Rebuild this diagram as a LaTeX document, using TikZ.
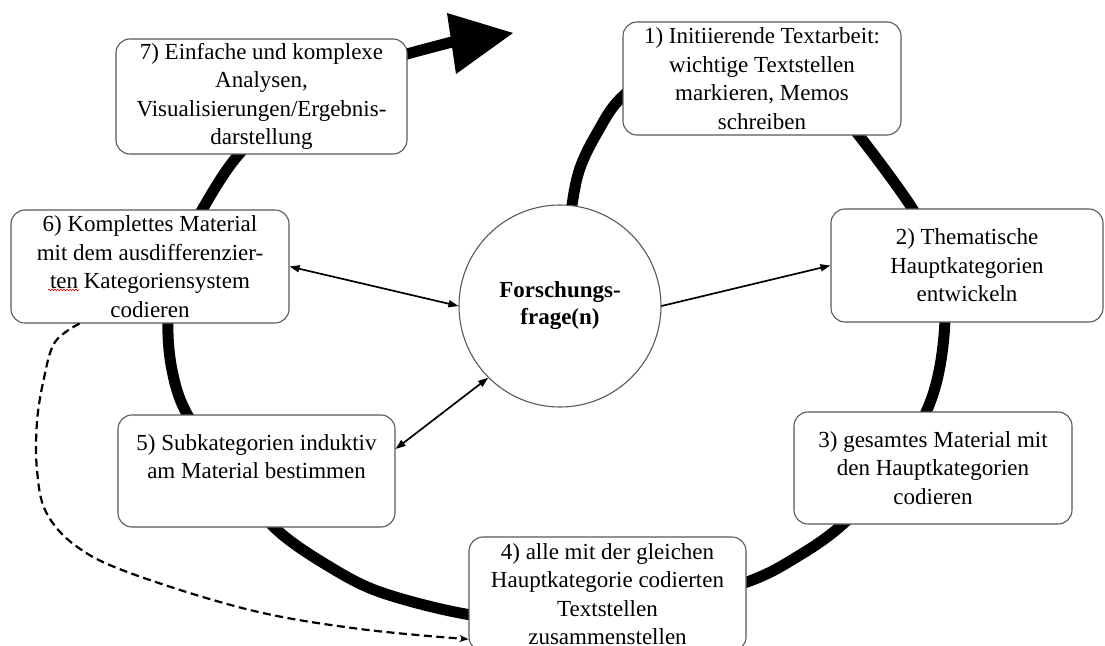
\documentclass[tikz,border=0pt]{standalone}
\usepackage{fontspec}
\setmainfont{Liberation Serif}
\usetikzlibrary{arrows.meta, decorations.pathmorphing}

\begin{document}
\begin{tikzpicture}[x=1pt, y=-1pt,
  stepbox/.style={draw=black!65, line width=1.1pt, fill=white,
    rounded corners=14pt, align=center, inner sep=0pt,
    font=\fontsize{23}{28.5}\selectfont},
  hub/.style={circle, draw=black!65, line width=1.1pt, fill=white,
    minimum size=202pt, inner sep=0pt, align=center,
    font=\fontsize{23}{27}\selectfont\bfseries},
  cycle line/.style={line width=11pt, line join=round},
  link/.style={line width=1.7pt},
  tip/.tip={Triangle[length=10pt, width=7pt]},
  back link/.style={line width=2.2pt, dash pattern=on 8pt off 4.5pt},
]
\useasboundingbox (0,0) rectangle (1105,645);
\clip (0,0) rectangle (1105,645);
\fill[white] (0,0) rectangle (1105,645);

% the research cycle, running clockwise from the central question
\draw[cycle line] plot[smooth, tension=0.55] coordinates {
  (566,260) (572,205) (580,168) (597,133) (622,97) (680,55) (760,58)
  (822,95) (857,133) (912,208) (938,260) (945,312) (940,366) (927,410)
  (895,470) (843,524) (800,555) (747,582) (640,612) (540,622) (460,613)
  (380,592) (330,567) (277,530) (230,475) (187,414) (172,370) (168,320)
  (176,262) (202,210) (240,153) (300,100) (360,68) (407,54) (452,42)};
\fill (447,13) -- (513,33) -- (456,74) -- cycle;

% central question
\node[hub] (fq) at (560,306) {Forschungs-\\frage(n)};

% phases
\node[stepbox, minimum width=278pt, minimum height=113pt] (b1) at (762,78.5)
  {1) Initiierende Textarbeit:\\wichtige Textstellen\\markieren, Memos\\schreiben};
\node[stepbox, minimum width=272pt, minimum height=113pt] (b2) at (967,265.5)
  {2) Thematische\\Hauptkategorien\\entwickeln};
\node[stepbox, minimum width=278pt, minimum height=112pt] (b3) at (933,468)
  {3) gesamtes Material mit\\den Hauptkategorien\\codieren};
\node[stepbox, minimum width=277pt, minimum height=114pt] (b4) at (607.5,594)
  {4) alle mit der gleichen\\Hauptkategorie codierten\\Textstellen\\zusammenstellen};
\node[stepbox, minimum width=277pt, minimum height=112pt] (b5) at (256.5,471)
  {5) Subkategorien induktiv\\am Material bestimmen\\\mbox{}};
\node[stepbox, minimum width=278pt, minimum height=113pt] (b6) at (150,266.5)
  {6) Komplettes Material\\mit dem ausdifferenzier-\\ten Kategoriensystem\\codieren};
\node[stepbox, minimum width=291pt, minimum height=115pt] (b7) at (261.5,96.5)
  {7) Einfache und komplexe\\Analysen,\\Visualisierungen/Ergebnis-\\darstellung};

% spell-check mark under "ten"
\draw[red!85!black, line width=0.6pt, decorate,
  decoration={snake, amplitude=0.8pt, segment length=3pt}] (48,290) -- (79,290);

% links to the central question
\draw[link, tip-tip] (b6.east) -- (fq.west);
\draw[link, -tip] (fq.east) -- (b2.west);
\draw[link, tip-tip] (b5.9) -- (fq.225);

% feedback from phase 6 to phase 4
\draw[back link, -{Stealth[length=9pt, width=7pt]}] plot[smooth, tension=0.6] coordinates {
  (b6.219) (55,342) (44,378) (37,422) (37,470) (46,512) (76,546)
  (130,573) (250,610) (360,629) (b4.198)};
\end{tikzpicture}
\end{document}
